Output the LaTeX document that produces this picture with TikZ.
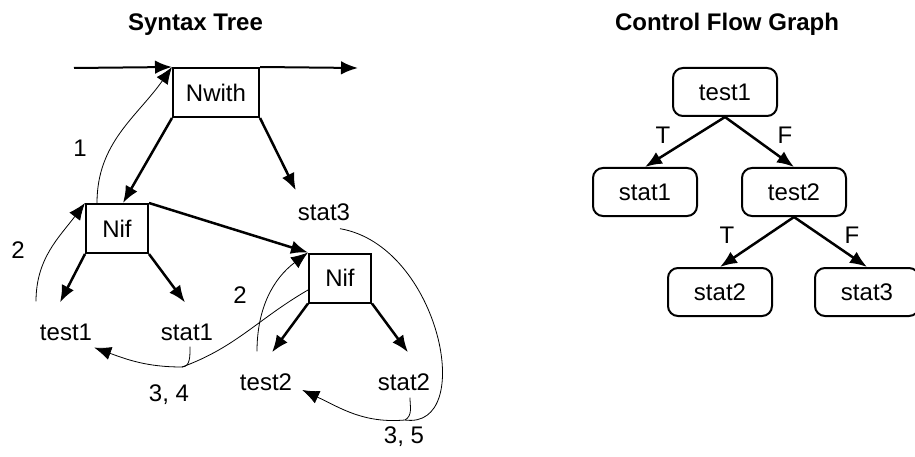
\documentclass[tikz,border=0pt]{standalone}
\usepackage{fontspec}
\setmainfont{Liberation Sans}
\usetikzlibrary{arrows.meta,positioning,calc}

\begin{document}
\begin{tikzpicture}
	[x=1pt,y=-1pt,>={Latex[length=17pt,width=13.5pt]},
	every node/.style={font=\fontsize{24}{28}\selectfont},
	heading/.style={font=\fontsize{24}{28}\selectfont\bfseries,anchor=base},
	box/.style={draw,line width=2pt,inner sep=0pt,minimum width=62pt,minimum height=49pt},
	rbox/.style={draw,line width=2pt,rounded corners=10pt,minimum width=104pt,minimum height=48pt},
	leaf/.style={inner sep=2pt},
	treearrow/.style={->,line width=2.5pt},
	walk/.style={->,line width=0.8pt}]
	\useasboundingbox (0,0) rectangle (915,457);

	\node[heading] (syntitle) at (195.5,31) {Syntax Tree};
	\node[heading] (cfgtitle) at (727,31) {Control Flow Graph};

	\node[box,minimum width=86pt] (nwith) at (216,92.5) {Nwith};
	\node[box] (nif1) at (117,228.5) {Nif};
	\node[box] (nif2) at (340,278) {Nif};
	\node[leaf] (stat3) at (324,212) {stat3};
	\node[leaf] (test1) at (66,332) {test1};
	\node[leaf] (stat1) at (187,332) {stat1};
	\node[leaf] (test2) at (266,382) {test2};
	\node[leaf] (stat2) at (404,382) {stat2};
	\coordinate (in) at (74,68);
	\coordinate (out) at (358,68);
	\coordinate (m34) at (182,367);
	\coordinate (m35) at (405,420);

	\draw[->,line width=2pt] (in) -- (nwith.north west);
	\draw[->,line width=2pt] (nwith.north east) -- (out);
	\draw[treearrow] (nwith.south west) -- ([xshift=6pt]nif1.north);
	\draw[treearrow] (nwith.south east) -- ([yshift=11pt]stat3.north west);
	\draw[treearrow] (nif1.north east) -- (nif2.north west);
	\path
	\foreach \up/\down/\dx in {nif1.south west/test1/-6,nif1.south east/stat1/-2,
		nif2.south west/test2/6,nif2.south east/stat2/4}{
		(\up) edge[treearrow] ([shift={(\dx pt,19pt)}]\down.north)
	};

	\draw[walk] ([xshift=-20pt]nif1.north) to[out=90,in=235] (nwith.north west);
	\draw[walk] ([shift={(-30pt,20pt)}]test1.north) to[out=90,in=233] (nif1.north west);
	\draw[walk] ([shift={(-9pt,20pt)}]test2.north) to[out=90,in=217] (nif2.north west);
	\draw[line width=0.8pt] ([shift={(3pt,-4pt)}]stat1.south) to[out=-90,in=0] (m34);
	\draw[line width=0.8pt] ([yshift=-12pt]nif2.west) to[out=210,in=20] (m34);
	\draw[walk] (m34) to[out=180,in=-20] ([yshift=-5pt]test1.south east);
	\draw[line width=0.8pt] ([shift={(6pt,-5pt)}]stat2.south) to[out=-90,in=30] (m35);
	\draw[line width=0.8pt] ([shift={(16pt,-6pt)}]stat3.south) .. controls +(100,17) and +(72,10) .. (m35);
	\draw[walk] (m35) to[out=185,in=-25] ([shift={(8pt,-8pt)}]test2.east);

	\node (l1) at (80,148) {1};
	\node (l2a) at (18,250) {2};
	\node (l2b) at (240,295) {2};
	\node (l34) at (169,395) {3, 4};
	\node (l35) at (404,437) {3, 5};

	\node[rbox] (ctest1) at (725,92) {test1};
	\node[rbox] (cstat1) at (645,192) {stat1};
	\node[rbox] (ctest2) at (794,192) {test2};
	\node[rbox] (cstat2) at (720,292) {stat2};
	\node[rbox] (cstat3) at (867,292) {stat3};
	\path
	\foreach \a/\b in {ctest1/cstat1,ctest1/ctest2,ctest2/cstat2,ctest2/cstat3}{
		(\a.south) edge[treearrow] (\b.north)
	};
	\node (t1) at (663,135) {T};
	\node (f1) at (785,135) {F};
	\node (t2) at (727,235) {T};
	\node (f2) at (852,235) {F};
\end{tikzpicture}
\end{document}
